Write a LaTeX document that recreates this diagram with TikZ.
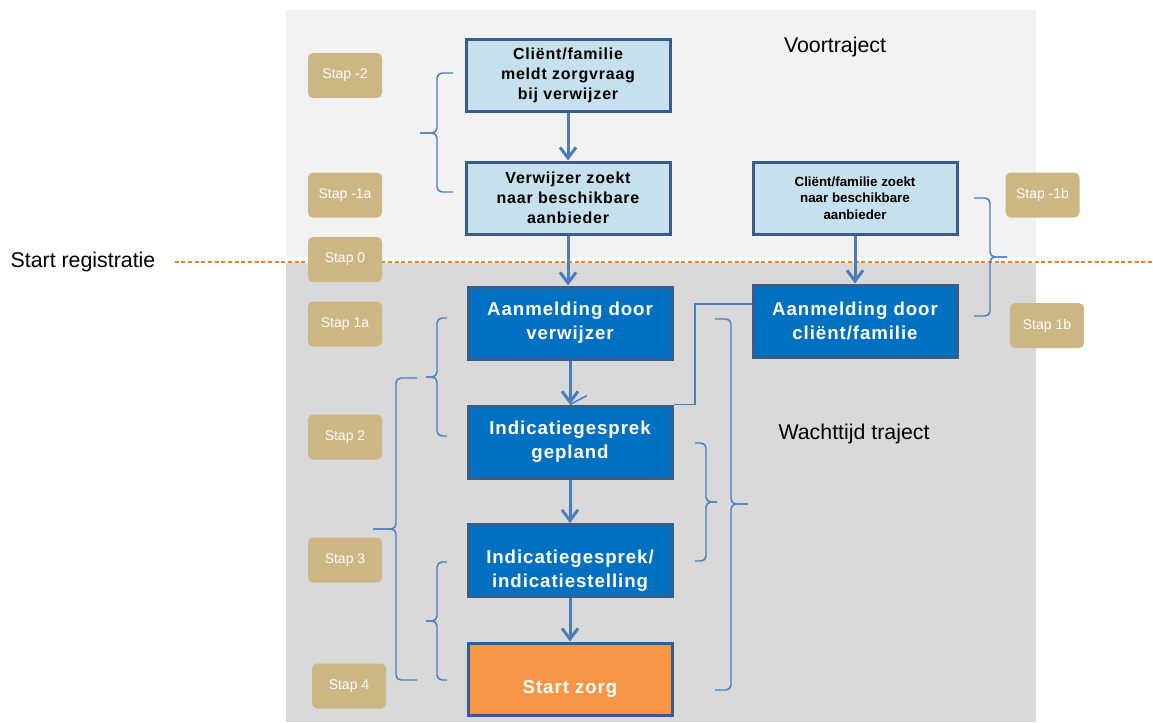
\documentclass[tikz,border=0pt]{standalone}
\usepackage{fontspec}
\setmainfont{Liberation Sans}
\newfontfamily\vakfont[LetterSpace=5]{Liberation Sans}
\usetikzlibrary{arrows.meta}

\definecolor{panellicht}{RGB}{242,242,242}
\definecolor{paneldonker}{RGB}{217,217,217}
\definecolor{stapkleur}{RGB}{204,182,131}
\definecolor{lichtblauw}{RGB}{198,224,238}
\definecolor{randblauw}{RGB}{56,93,138}
\definecolor{donkerblauw}{RGB}{0,112,192}
\definecolor{oranje}{RGB}{247,150,70}
\definecolor{pijlblauw}{RGB}{74,126,187}
\definecolor{streep}{RGB}{240,125,40}

\begin{document}
\begin{tikzpicture}[x=0.75pt,y=-0.75pt,
    kop/.style={font=\fontsize{16}{19}\selectfont},
    stap/.style={rounded corners=3.75pt, fill=stapkleur, text=white,
        minimum width=55.5pt, minimum height=33.75pt,
        font=\fontsize{10.5}{12}\selectfont},
    vraag/.style={draw=randblauw, line width=2.25pt, fill=lichtblauw,
        align=center, minimum width=153pt, minimum height=54pt,
        font=\vakfont\bfseries\fontsize{12}{15}\selectfont},
    aanmelding/.style={vraag, fill=donkerblauw, text=white,
        font=\vakfont\bfseries\fontsize{14}{18}\selectfont},
    zorgbox/.style={aanmelding, fill=oranje},
    pijl/.style={draw=pijlblauw, line width=2.25pt,
        -{Straight Barb[length=8pt,width=12pt]}},
    lijn/.style={draw=pijlblauw, line width=1.1pt},
    accolade/.style={draw=pijlblauw, line width=1.1pt, rounded corners=3.75pt},
    regline/.style={draw=streep, line width=1.1pt, dash pattern=on 3pt off 2pt}]
    \useasboundingbox (0,0) rectangle (1153,722);

    % Achtergrondvlakken
    \fill[panellicht] (286,10) rectangle (1036,257);
    \fill[paneldonker] (286,263) rectangle (1036,722);

    % Kopjes
    \node[kop] (voor) at (835,47) {Voortraject};
    \node[kop] (wacht) at (854,434) {Wachttijd traject};
    \node[kop] (startreg) at (83,262) {Start registratie};

    % Registratielijn
    \coordinate (regeinde) at (1153,262);
    \draw[regline] ([xshift=11pt]startreg.east) -- (regeinde);

    % Accolades links
    \draw[accolade] (453,73) -- (437,73) -- (437,133) -- (420,133);
    \draw[accolade] (453,192) -- (437,192) -- (437,133) -- (420,133);
    \draw[accolade] (447,318) -- (437,318) -- (437,377) -- (426,377);
    \draw[accolade] (447,436) -- (437,436) -- (437,377) -- (426,377);
    \draw[accolade] (417,378) -- (396,378) -- (396,529) -- (373,529);
    \draw[accolade] (417,680) -- (396,680) -- (396,529) -- (373,529);
    \draw[accolade] (447,562) -- (437,562) -- (437,621) -- (426,621);
    \draw[accolade] (447,680) -- (437,680) -- (437,621) -- (426,621);

    % Accolades rechts
    \draw[accolade] (974,198) -- (990,198) -- (990,257) -- (1007,257);
    \draw[accolade] (974,316) -- (990,316) -- (990,257) -- (1007,257);
    \draw[accolade] (715,319) -- (731,319) -- (731,504) -- (748,504);
    \draw[accolade] (715,690) -- (731,690) -- (731,504) -- (748,504);
    \draw[accolade] (695,443) -- (706,443) -- (706,502) -- (717,502);
    \draw[accolade] (695,561) -- (706,561) -- (706,502) -- (717,502);

    % Stappen
    \node[stap] (stapmin2) at (345,75.5) {Stap -2};
    \node[stap] (stapmin1a) at (345,195) {Stap -1a};
    \node[stap] (stap0) at (345,259.5) {Stap 0};
    \node[stap] (stap1a) at (345,324) {Stap 1a};
    \node[stap] (stap2) at (345,437) {Stap 2};
    \node[stap] (stap3) at (345,560) {Stap 3};
    \node[stap] (stap4) at (349,686) {Stap 4};
    \node[stap] (stapmin1b) at (1042.5,195) {Stap -1b};
    \node[stap] (stap1b) at (1047,325.5) {Stap 1b};

    % Vakken
    \node[vraag] (meldt) at (568,75.5) {Cliënt/familie\\meldt zorgvraag\\bij verwijzer};
    \node[vraag] (zoekt) at (568,198) {Verwijzer zoekt\\naar beschikbare\\aanbieder};
    \node[vraag, font=\bfseries\fontsize{10}{12.5}\selectfont] (zelfzoekt) at (855,198)
        {Cliënt/familie zoekt\\naar beschikbare\\aanbieder};
    \node[aanmelding] (aanmverw) at (570,323) {Aanmelding door\\verwijzer};
    \node[aanmelding] (aanmclient) at (855,321) {Aanmelding door\\cliënt/familie};
    \node[aanmelding] (gepland) at (570,442) {Indicatiegesprek\\gepland};
    \node[aanmelding] (stelling) at (570,560.5) {\rule{0pt}{25pt}Indicatiegesprek/\\indicatiestelling};
    \node[zorgbox] (zorg) at (570,679) {\rule{0pt}{25pt}Start zorg};

    % Pijlen
    \draw[pijl] (meldt) -- (zoekt);
    \draw[pijl] (zoekt.south) -- (zoekt.south |- aanmverw.north);
    \draw[pijl] (zelfzoekt) -- (aanmclient);
    \draw[pijl] (aanmverw) -- (gepland);
    \draw[pijl] (gepland) -- (stelling);
    \draw[pijl] (stelling) -- (zorg);

    % Verbinding clientaanmelding naar indicatiegesprek
    \coordinate (knik) at (695,304);
    \draw[lijn] (knik -| aanmclient.west) -- (knik) |- (gepland.north east);
    \draw[lijn] (gepland.north) -- ++(17,-9);
\end{tikzpicture}
\end{document}
